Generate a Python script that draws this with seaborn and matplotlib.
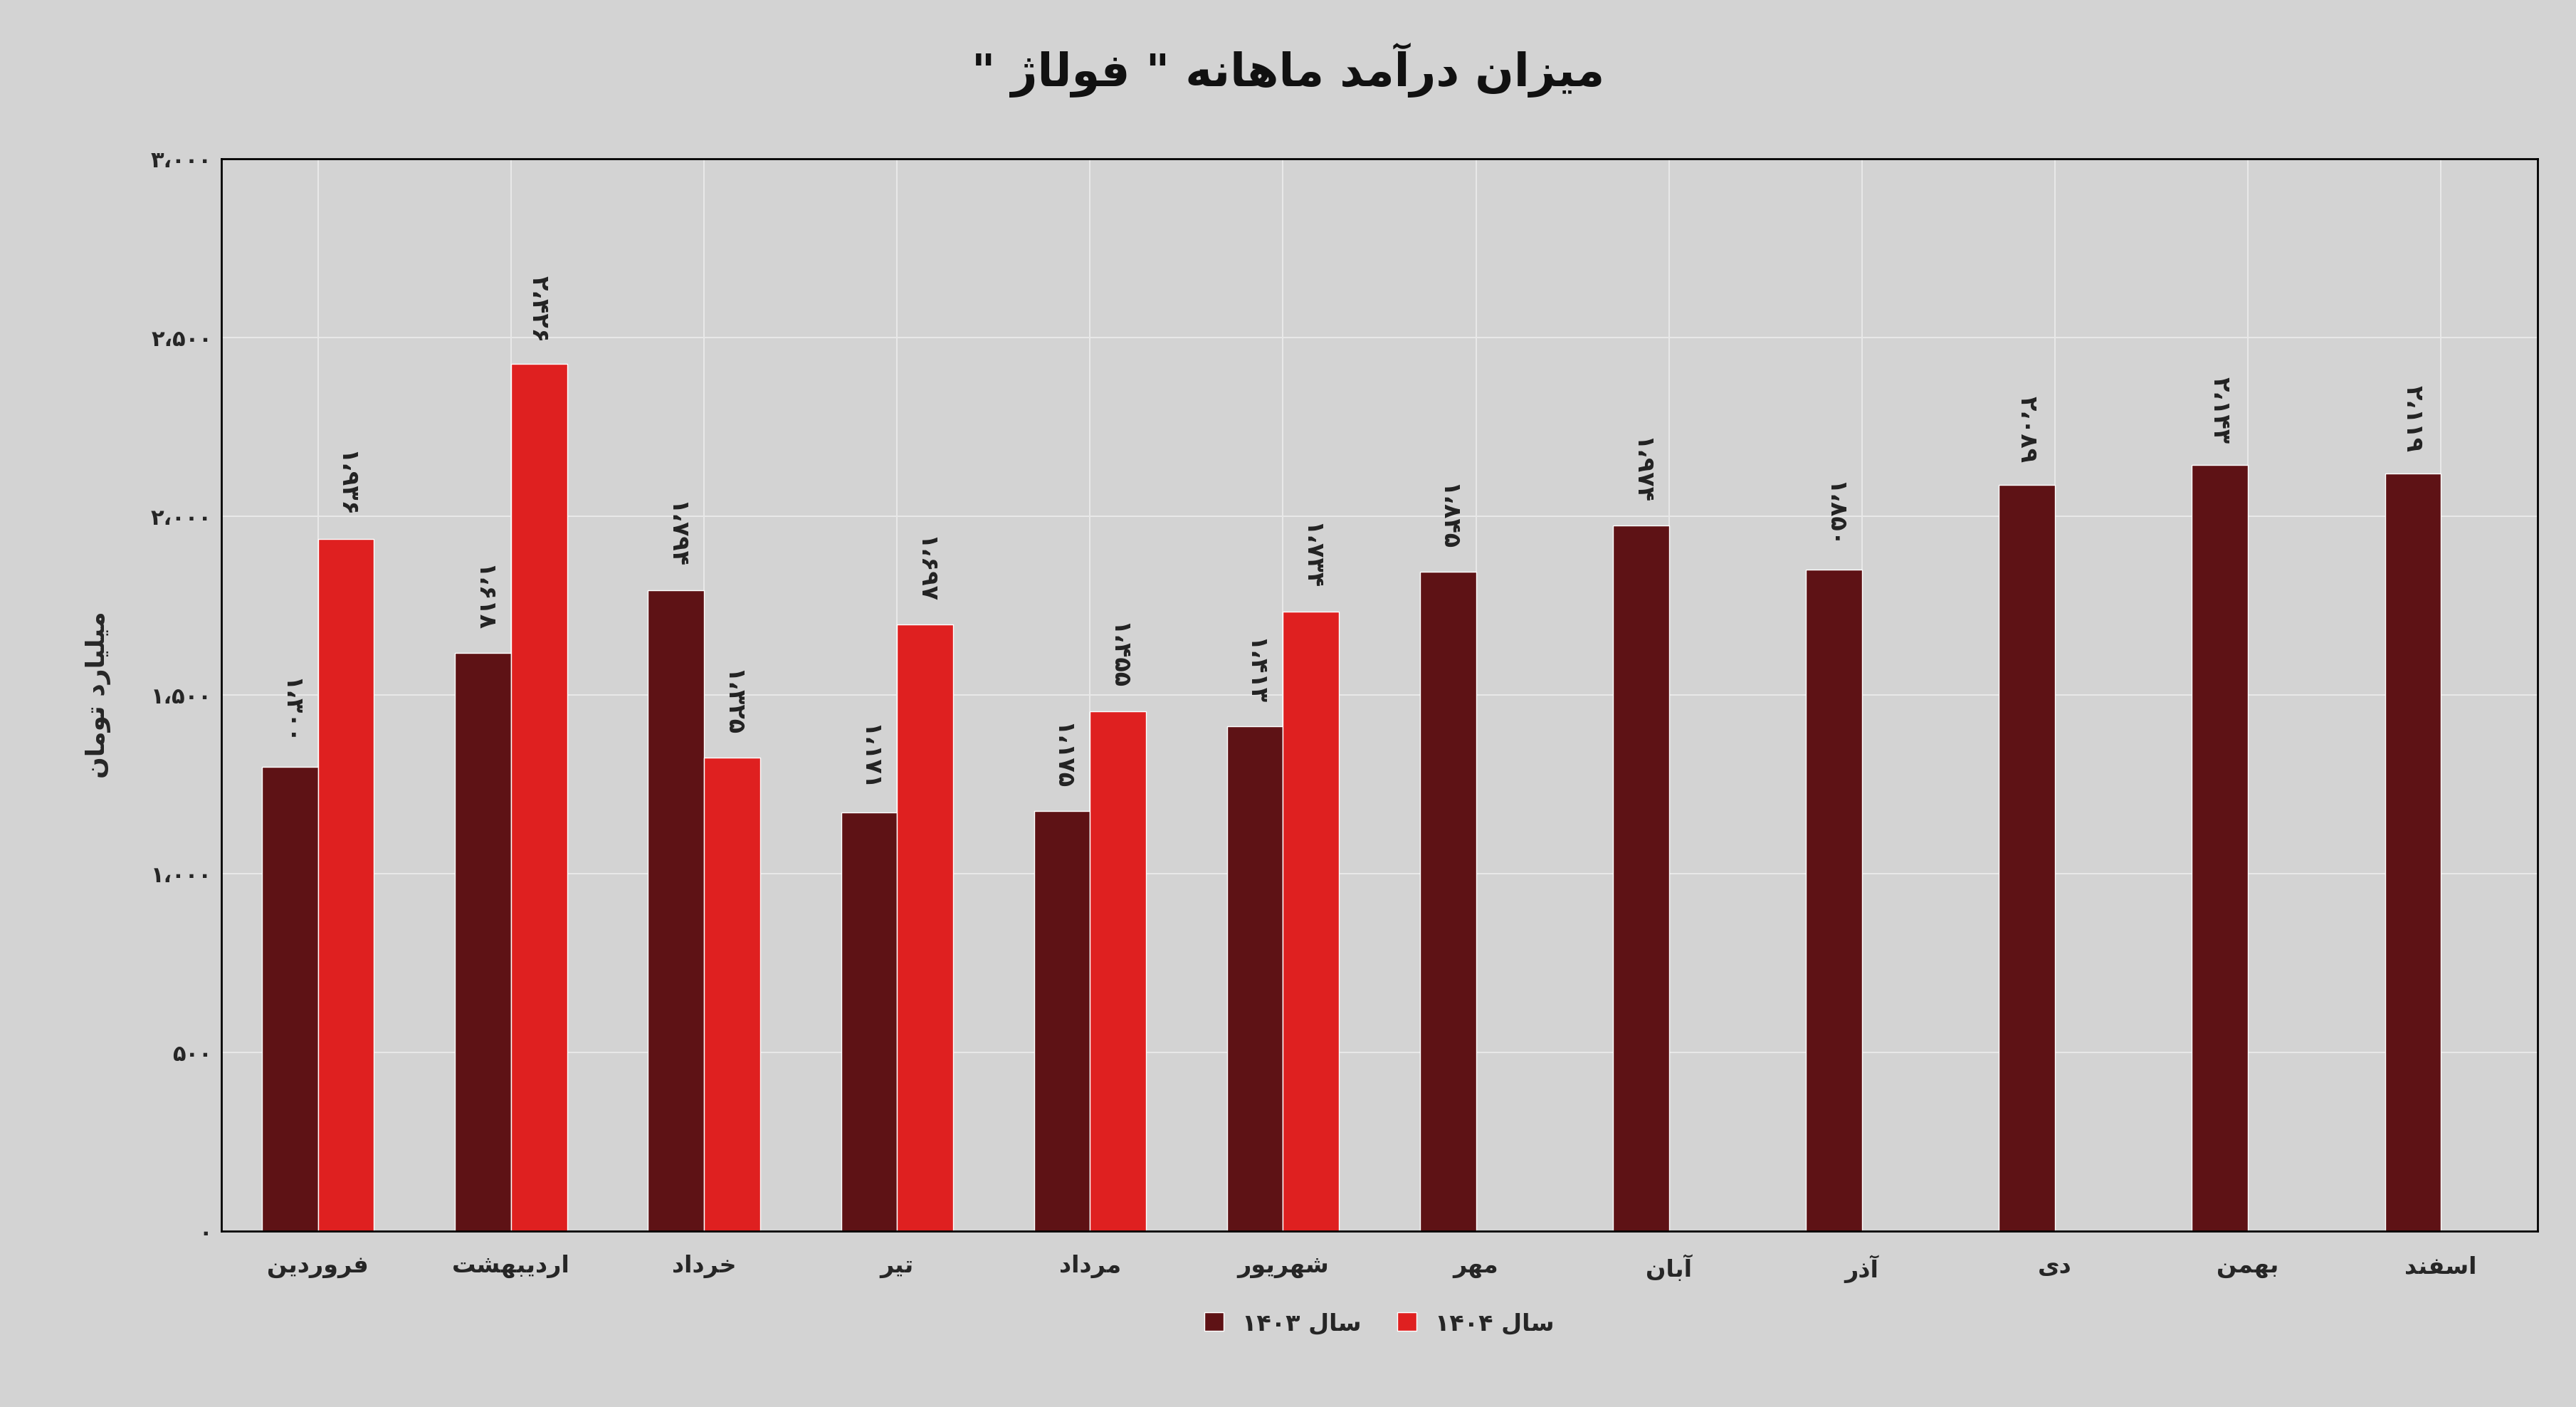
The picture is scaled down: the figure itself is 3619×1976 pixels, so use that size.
import numpy as np
import pandas as pd
import matplotlib.pyplot as plt
import seaborn as sns

months = ['فروردین', 'اردیبهشت', 'خرداد', 'تیر', 'مرداد', 'شهریور',
          'مهر', 'آبان', 'آذر', 'دی', 'بهمن', 'اسفند']
rev_1403 = [1300, 1618, 1794, 1171, 1175, 1413, 1845, 1974, 1850, 2089, 2143, 2119]
rev_1404 = [1936, 2426, 1325, 1697, 1455, 1734, None, None, None, None, None, None]
series = ['سال ۱۴۰۳', 'سال ۱۴۰۴']
title = 'میزان درآمد ماهانه " فولاژ "'
ylabel = 'میلیارد تومان'

# tiny persian shaper (matplotlib has no complex text layout)
FORMS = {
    'ا': ('\uFE8D', '\uFE8E'), 'آ': ('\uFE81', '\uFE82'),
    'د': ('\uFEA9', '\uFEAA'), 'ذ': ('\uFEAB', '\uFEAC'),
    'ر': ('\uFEAD', '\uFEAE'), 'ز': ('\uFEAF', '\uFEB0'),
    'ژ': ('\uFB8A', '\uFB8B'), 'و': ('\uFEED', '\uFEEE'),
    'ب': ('\uFE8F', '\uFE90', '\uFE91', '\uFE92'),
    'ت': ('\uFE95', '\uFE96', '\uFE97', '\uFE98'),
    'خ': ('\uFEA5', '\uFEA6', '\uFEA7', '\uFEA8'),
    'س': ('\uFEB1', '\uFEB2', '\uFEB3', '\uFEB4'),
    'ش': ('\uFEB5', '\uFEB6', '\uFEB7', '\uFEB8'),
    'ف': ('\uFED1', '\uFED2', '\uFED3', '\uFED4'),
    'ل': ('\uFEDD', '\uFEDE', '\uFEDF', '\uFEE0'),
    'م': ('\uFEE1', '\uFEE2', '\uFEE3', '\uFEE4'),
    'ن': ('\uFEE5', '\uFEE6', '\uFEE7', '\uFEE8'),
    'ه': ('\uFEE9', '\uFEEA', '\uFEEB', '\uFEEC'),
    'ی': ('\uFBFC', '\uFBFD', '\uFBFE', '\uFBFF'),
}


def shape_word(w):
    if not any(c in FORMS for c in w):
        return w
    out = []
    for i, c in enumerate(w):
        if c not in FORMS:
            out.append(c)
            continue
        prev = w[i - 1] if i > 0 else ''
        nxt = w[i + 1] if i + 1 < len(w) else ''
        jp = prev in FORMS and len(FORMS[prev]) == 4
        jn = len(FORMS[c]) == 4 and nxt in FORMS
        f = FORMS[c]
        if jp and jn:
            out.append(f[3])
        elif jp:
            out.append(f[1])
        elif jn:
            out.append(f[2])
        else:
            out.append(f[0])
    return ''.join(out)[::-1]


def fa(s):
    return ' '.join(shape_word(w) for w in s.split(' ')[::-1])


def fa_num(v):
    s = f'{int(v):,}'.replace(',', '،')
    return s.translate(str.maketrans('0123456789', '۰۱۲۳۴۵۶۷۸۹'))


df = pd.DataFrame({
    'month': months * 2,
    'value': rev_1403 + rev_1404,
    'year': [series[0]] * 12 + [series[1]] * 12,
})
df['value'] = df['value'].astype(float)

sns.set_theme(style='whitegrid')
plt.rcParams['font.family'] = ['DejaVu Sans']
plt.rcParams['font.weight'] = 'bold'

fig = plt.figure(figsize=(36.19, 19.76), dpi=100, facecolor='#d3d3d3')
ax = fig.add_axes([0.086, 0.125, 0.899, 0.762])
ax.set_facecolor('#d3d3d3')

sns.barplot(data=df, x='month', y='value', hue='year',
            palette=['#6b0509', '#ff0000'], width=0.58, ax=ax, legend=True)

for cont in ax.containers:
    for bar in cont:
        h = bar.get_height()
        if np.isnan(h) or h == 0:
            continue
        ax.text(bar.get_x() + bar.get_width() / 2, h + 60, fa_num(h),
                rotation=270, ha='center', va='bottom', fontsize=24,
                fontweight='bold', color='#222222')

ax.set_ylim(0, 3000)
ax.set_yticks(range(0, 3001, 500))
ax.set_yticklabels([fa_num(v) for v in range(0, 3001, 500)], fontsize=22, fontweight='bold')
ax.set_xticks(range(12))
ax.set_xticklabels([fa(m) for m in months], fontsize=24, fontweight='bold')
ax.set_xlim(-0.5, 11.5)
ax.set_xlabel('')
ax.set_ylabel(fa(ylabel), fontsize=26, fontweight='bold', labelpad=40)
ax.grid(True, color='#e8e8e8', linewidth=1.5)
ax.tick_params(axis='x', pad=18)
for sp in ax.spines.values():
    sp.set_color('black')
    sp.set_linewidth(2)

handles, _ = ax.get_legend_handles_labels()
ax.legend(handles, [fa(s) for s in series], loc='upper center',
          bbox_to_anchor=(0.5, -0.055), ncol=2, frameon=False, fontsize=24,
          handlelength=0.8, handleheight=0.8, columnspacing=1.5)

fig.text(0.5, 0.95, fa(title), ha='center', va='center', fontsize=46,
         fontweight='bold', color='#111111')

fig.savefig('out.png', dpi=100, facecolor=fig.get_facecolor())
